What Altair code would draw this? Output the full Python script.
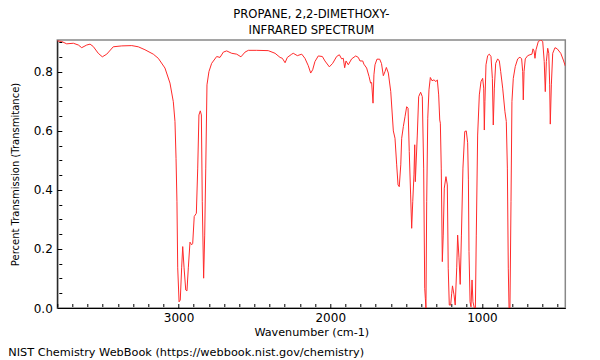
import altair as alt
import pandas as pd

title_lines = ["PROPANE, 2,2-DIMETHOXY-", "INFRARED SPECTRUM"]
x_title = "Wavenumber (cm-1)"
y_title = "Percent Transmission (Transmitance)"
footer = "NIST Chemistry WebBook (https://webbook.nist.gov/chemistry)"

x_tick_values = [3800, 3700, 3600, 3500, 3400, 3300, 3200, 3100, 3000, 2900, 2800, 2700,
                 2600, 2500, 2400, 2300, 2200, 2100, 2000, 1900, 1800, 1700, 1600, 1500,
                 1400, 1300, 1200, 1100, 1000, 900, 800, 700, 600, 500]
y_tick_values = [0.0, 0.05, 0.1, 0.15, 0.2, 0.25, 0.3, 0.35, 0.4, 0.45, 0.5, 0.55, 0.6,
                 0.65, 0.7, 0.75, 0.8, 0.85, 0.9]

wavenumber = [
    3800, 3771, 3738, 3694, 3661, 3639, 3606, 3584, 3563, 3530, 3503, 3474, 3431, 3375,
    3309, 3266, 3222, 3167, 3134, 3090, 3057, 3035, 3024, 3017, 3011, 3006, 2997, 2989,
    2980, 2973, 2964, 2953, 2945, 2936, 2925, 2914, 2907, 2897, 2883, 2874, 2866, 2857,
    2850, 2844, 2835, 2828, 2821, 2813, 2800, 2782, 2749, 2727, 2705, 2683, 2650, 2617,
    2589, 2562, 2540, 2485, 2409, 2364, 2331, 2316, 2298, 2283, 2254, 2244, 2217, 2188,
    2167, 2145, 2129, 2116, 2101, 2079, 2052, 2035, 2006, 1984, 1958, 1940, 1925, 1914,
    1905, 1896, 1881, 1859, 1832, 1815, 1804, 1786, 1778, 1760, 1744, 1734, 1727, 1718,
    1712, 1705, 1692, 1674, 1662, 1650, 1639, 1630, 1617, 1601, 1584, 1573, 1562, 1553,
    1545, 1535, 1529, 1518, 1507, 1496, 1487, 1479, 1470, 1463, 1456, 1448, 1443, 1439,
    1426, 1417, 1404, 1393, 1384, 1377, 1373, 1369, 1364, 1357, 1349, 1340, 1329, 1316,
    1303, 1294, 1285, 1278, 1274, 1268, 1261, 1255, 1248, 1237, 1228, 1222, 1215, 1206,
    1199, 1194, 1184, 1176, 1166, 1160, 1151, 1143, 1135, 1125, 1113, 1103, 1094, 1089,
    1085, 1078, 1072, 1065, 1059, 1050, 1043, 1037, 1028, 1017, 1006, 995, 988, 984,
    980, 973, 962, 951, 940, 931, 925, 918, 909, 896, 885, 876, 863, 848,
    839, 832, 826, 821, 815, 808, 802, 793, 780, 764, 749, 738, 731, 727,
    722, 714, 698, 683, 670, 663, 656, 650, 643, 628, 612, 599, 589, 582,
    575, 566, 559, 553, 549, 542, 533, 518, 503, 480, 463, 450,
]
transmittance = [
    0.905, 0.903, 0.895, 0.897, 0.891, 0.882, 0.891, 0.894, 0.886, 0.863, 0.851, 0.860, 0.885, 0.888,
    0.889, 0.885, 0.875, 0.860, 0.846, 0.813, 0.762, 0.699, 0.632, 0.507, 0.360, 0.136, 0.021, 0.027,
    0.136, 0.208, 0.136, 0.061, 0.058, 0.136, 0.223, 0.214, 0.219, 0.310, 0.321, 0.474, 0.654, 0.668,
    0.654, 0.360, 0.101, 0.247, 0.474, 0.756, 0.801, 0.829, 0.852, 0.849, 0.867, 0.871, 0.863, 0.860,
    0.851, 0.867, 0.873, 0.873, 0.872, 0.863, 0.849, 0.846, 0.831, 0.849, 0.860, 0.863, 0.855, 0.860,
    0.846, 0.821, 0.796, 0.807, 0.835, 0.854, 0.852, 0.837, 0.817, 0.829, 0.852, 0.858, 0.844, 0.846,
    0.814, 0.837, 0.824, 0.844, 0.854, 0.849, 0.837, 0.837, 0.826, 0.813, 0.784, 0.762, 0.764, 0.694,
    0.790, 0.824, 0.843, 0.843, 0.828, 0.787, 0.801, 0.815, 0.796, 0.733, 0.600, 0.575, 0.485, 0.417,
    0.411, 0.485, 0.575, 0.615, 0.648, 0.682, 0.677, 0.530, 0.383, 0.270, 0.360, 0.451, 0.553, 0.428,
    0.586, 0.716, 0.731, 0.716, 0.474, 0.067, 0.033, 0.000, 0.360, 0.643, 0.739, 0.781, 0.770, 0.773,
    0.767, 0.773, 0.722, 0.637, 0.626, 0.474, 0.157, 0.247, 0.406, 0.445, 0.417, 0.135, 0.010, 0.010,
    0.050, 0.075, 0.045, 0.010, 0.136, 0.247, 0.170, 0.080, 0.247, 0.474, 0.598, 0.600, 0.560, 0.434,
    0.191, 0.021, 0.004, 0.095, 0.021, 0.000, 0.000, 0.247, 0.586, 0.722, 0.767, 0.778, 0.745, 0.603,
    0.699, 0.824, 0.855, 0.860, 0.852, 0.778, 0.620, 0.745, 0.829, 0.844, 0.837, 0.801, 0.745, 0.665,
    0.632, 0.474, 0.135, 0.000, 0.000, 0.360, 0.699, 0.778, 0.818, 0.844, 0.850, 0.844, 0.801, 0.705,
    0.801, 0.844, 0.855, 0.858, 0.860, 0.878, 0.871, 0.846, 0.875, 0.903, 0.908, 0.903, 0.835, 0.733,
    0.835, 0.880, 0.863, 0.756, 0.623, 0.756, 0.863, 0.882, 0.878, 0.863, 0.840, 0.820,
]

df = pd.DataFrame({"wn": wavenumber, "T": transmittance, "i": list(range(len(wavenumber)))})

FONT = "DejaVu Sans"
X_MAJOR = "datum.value % 1000 === 0"
Y_MAJOR = "abs(datum.value * 5 - round(datum.value * 5)) < 0.001"

x_scale = alt.Scale(domain=[450, 3800], reverse=True, nice=False, zero=False)
y_scale = alt.Scale(domain=[0, 0.908], nice=False, zero=False)

# main axes: labels, titles and domain lines (their own ticks are hidden)
x_axis = alt.Axis(
    orient="bottom",
    values=x_tick_values,
    labelExpr=X_MAJOR + " ? format(datum.value, 'd') : ''",
    labelOverlap=False,
    labelFont=FONT, labelFontSize=12, labelColor="black", labelPadding=0,
    tickSize=4, tickOpacity=0,
    domainColor="black", domainWidth=1,
    grid=False,
    title=x_title, titleFont=FONT, titleFontSize=11.2, titleFontWeight="normal",
    titleColor="black", titleBaseline="middle", titleY=24,
)
y_axis = alt.Axis(
    orient="left",
    values=y_tick_values,
    labelExpr=Y_MAJOR + " ? format(datum.value, '.1f') : ''",
    labelOverlap=False,
    labelFont=FONT, labelFontSize=12, labelColor="black", labelPadding=1,
    tickSize=4, tickOpacity=0,
    domainColor="black", domainWidth=1,
    grid=False,
    title=y_title, titleFont=FONT, titleFontSize=10, titleFontWeight="normal",
    titleColor="black", titleBaseline="middle", titleAngle=270, titleX=-42, titleY=134,
)

# second pair of axes, pulled inside the plot, that draws the inward-pointing ticks
x_ticks_in = alt.Axis(
    orient="bottom", offset=-4.5, values=x_tick_values, labels=False, domain=False,
    grid=False, title=None, tickColor="black", tickWidth=1,
    tickSize={"condition": {"test": X_MAJOR, "value": 4.5}, "value": 3},
)
y_ticks_in = alt.Axis(
    orient="left", offset=-4.5, values=y_tick_values, labels=False, domain=False,
    grid=False, title=None, tickColor="black", tickWidth=1,
    tickSize={"condition": {"test": Y_MAJOR, "value": 4.5}, "value": 3},
)

line = alt.Chart(df).mark_line(color="#ff2a2a", strokeWidth=1, clip=True).encode(
    x=alt.X("wn:Q", scale=x_scale, axis=x_axis),
    y=alt.Y("T:Q", scale=y_scale, axis=y_axis),
    order="i:Q",
)

tick_layer = alt.Chart(df).mark_line(strokeOpacity=0, clip=True).encode(
    x=alt.X("wn:Q", scale=x_scale, axis=x_ticks_in),
    y=alt.Y("T:Q", scale=y_scale, axis=y_ticks_in),
    order="i:Q",
)

foot = alt.Chart(pd.DataFrame({"t": [footer]})).mark_text(
    align="left", baseline="alphabetic", font=FONT, fontSize=11.3, color="black"
).encode(x=alt.value(-49), y=alt.value(316), text="t:N")

chart = alt.layer(line, tick_layer, foot).resolve_axis(
    x="independent", y="independent"
).properties(
    width=508,
    height=268,
    padding={"left": 49.3, "top": 32, "right": 26.7, "bottom": 50},
    autosize=alt.AutoSizeParams(type="none"),
    title=alt.TitleParams(text=title_lines, font=FONT, fontSize=11.6, fontWeight="normal",
                          color="black", anchor="middle", offset=-0.5, lineHeight=16),
).configure_view(stroke="#888888", strokeWidth=1.5)

chart.save("out.html", embed_options={"renderer": "svg", "actions": False})
